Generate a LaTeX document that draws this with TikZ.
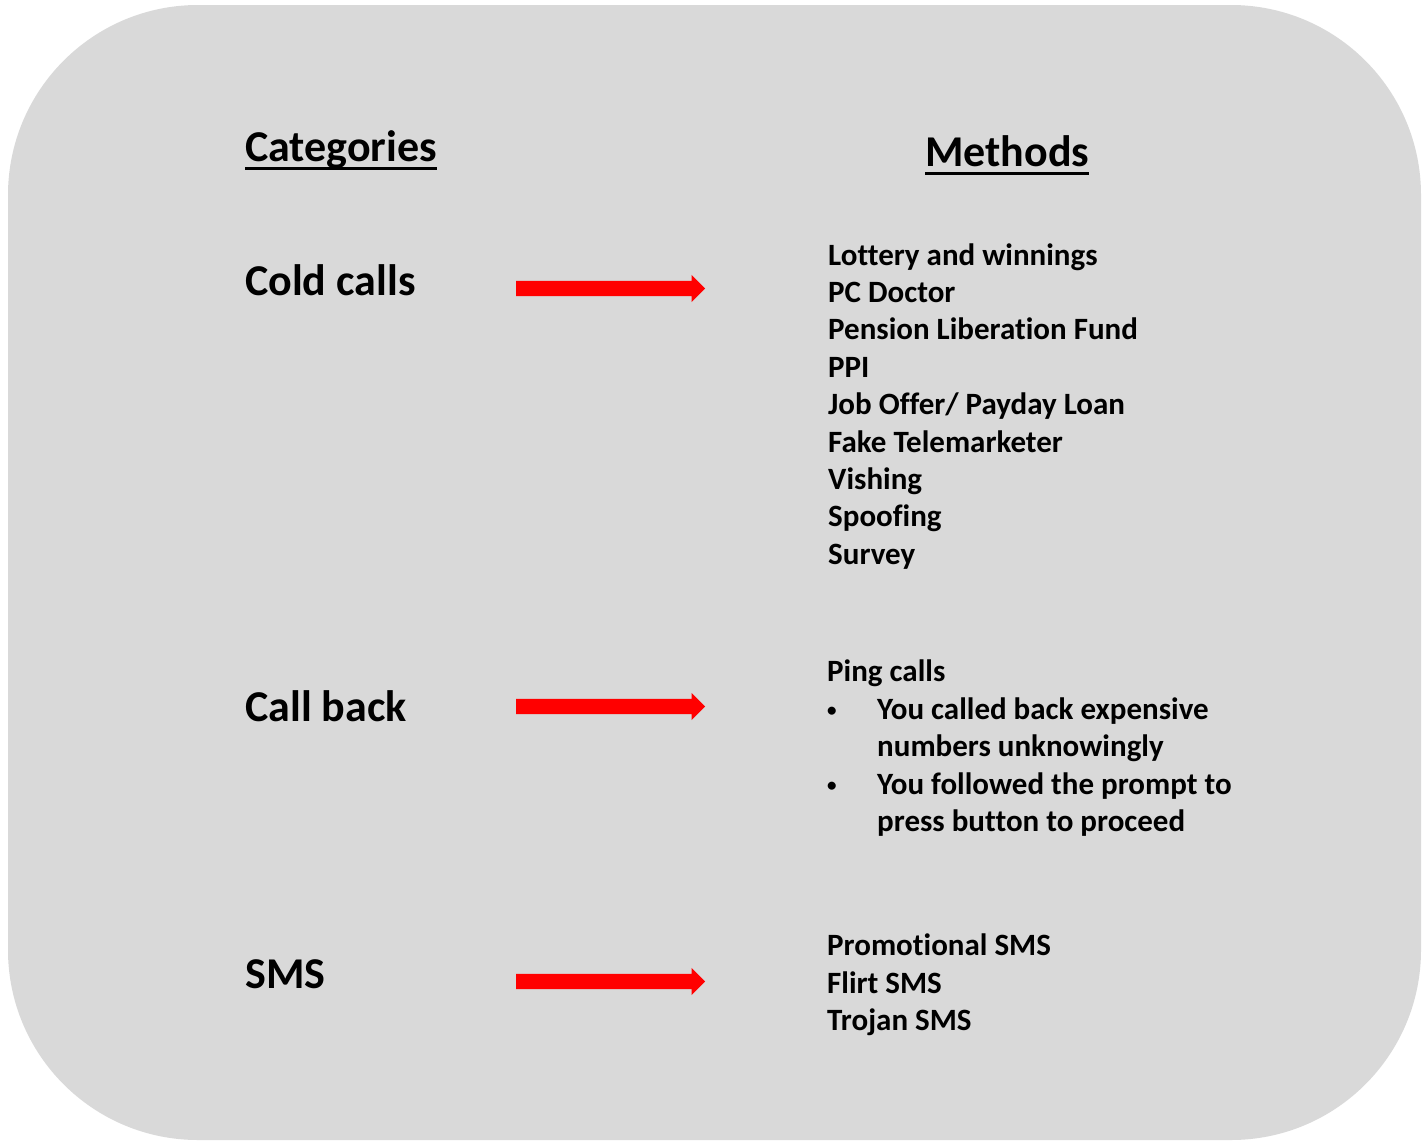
\documentclass[tikz,border=0pt]{standalone}
\usepackage{fontspec}
\setmainfont{Carlito}[Ligatures={NoCommon}]
\usetikzlibrary{shapes.arrows}
\definecolor{panel}{HTML}{D9D9D9}
\definecolor{arrowred}{HTML}{FF0000}
\begin{document}
\begin{tikzpicture}[x=1pt,y=-1pt,
  item/.style={inner sep=0, anchor=base west, font=\bfseries\fontsize{31}{37}\selectfont},
  bul/.style={inner sep=0, anchor=base west, font=\bfseries\fontsize{19}{23}\selectfont},
  cat/.style={inner sep=0, anchor=base west, font=\bfseries\fontsize{44}{52}\selectfont},
  blockarrow/.style={single arrow, fill=arrowred, draw=none, minimum height=189pt,
    minimum width=0pt, single arrow head extend=6pt, inner xsep=0pt, inner ysep=7.5pt,
    anchor=tail},
  uline/.style={line width=2.6pt}]
\useasboundingbox (0,0) rectangle (1423,1146);
\fill[panel, rounded corners=190pt] (8,5) rectangle (1421,1140);

% headers
\node[cat] (hcat) at (245,161.5) {Categories};
\node[cat] (hmeth) at (925,166.5) {Methods};
\draw[uline] ([yshift=-7pt]hcat.base west) -- ([yshift=-7pt]hcat.base east);
\draw[uline] ([yshift=-7pt]hmeth.base west) -- ([yshift=-7pt]hmeth.base east);

% categories
\node[cat] (cold) at (245,295.5) {Cold calls};
\node[cat] (back) at (245,721.5) {Call back};
\node[cat] (sms) at (245,988.5) {SMS};

% arrows
\node[blockarrow] (a1) at (516,288.5) {};
\node[blockarrow] (a2) at (516,706.5) {};
\node[blockarrow] (a3) at (516,981.5) {};

% cold call methods
\node[item] (m1) at (828,265) {Lottery and winnings};
\node[item] (m2) at (828,302.4) {PC Doctor};
\node[item] (m3) at (828,339.8) {Pension Liberation Fund};
\node[item] (m4) at (828,377.2) {PPI};
\node[item] (m5) at (828,414.6) {Job Offer/ Payday Loan};
\node[item] (m6) at (828,452) {Fake Telemarketer};
\node[item] (m7) at (828,489.4) {Vishing};
\node[item] (m8) at (828,526.8) {Spoofing};
\node[item] (m9) at (828,564.2) {Survey};

% call back methods
\node[item] (p0) at (827,681.5) {Ping calls};
\node[bul] (b1) at (827,716) {•};
\node[item] (p1) at (877,719) {You called back expensive};
\node[item] (p2) at (877,756.5) {numbers unknowingly};
\node[bul] (b2) at (827,791) {•};
\node[item] (p3) at (877,794) {You followed the prompt to};
\node[item] (p4) at (877,831.5) {press button to proceed};

% SMS methods
\node[item] (s1) at (827,955.5) {Promotional SMS};
\node[item] (s2) at (827,993) {Flirt SMS};
\node[item] (s3) at (827,1030.5) {Trojan SMS};
\end{tikzpicture}
\end{document}
